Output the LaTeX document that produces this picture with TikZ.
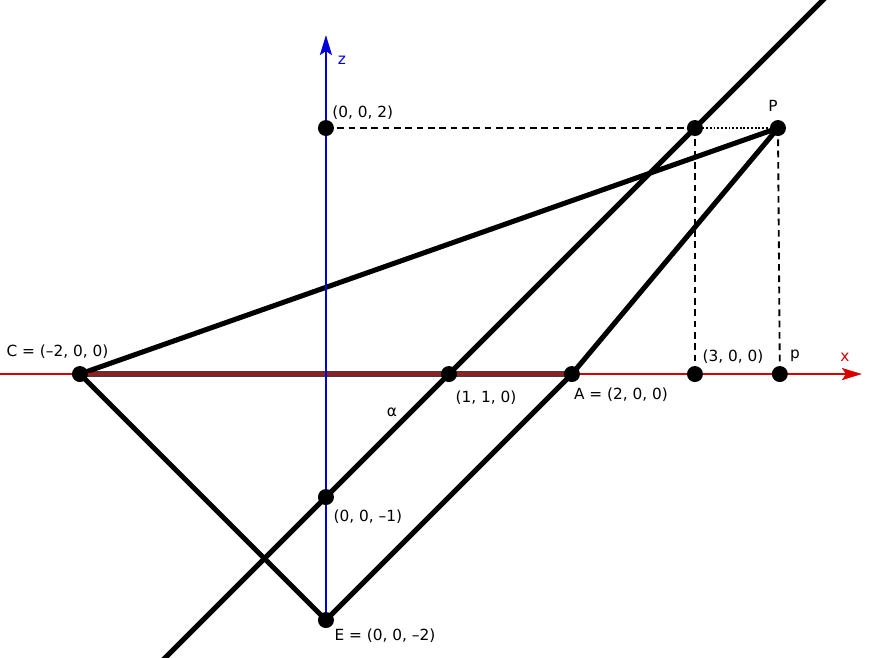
\documentclass[tikz,border=0pt]{standalone}
\usepackage{fontspec}
\setmainfont{DejaVu Sans}
\usetikzlibrary{arrows.meta}
\tikzset{
  dot/.style={circle, fill=black, inner sep=0pt, minimum size=12pt},
  edge/.style={line width=3.8pt, line cap=round},
  guide/.style={line width=1.4pt, dash pattern=on 5pt off 3.5pt},
  fine/.style={line width=1.4pt, dash pattern=on 1.4pt off 1.4pt},
  axis/.style={line width=1.8pt, -{Stealth[length=15pt, width=9pt, inset=3pt]}},
  lbl/.style={inner sep=0pt, font=\fontsize{11.5}{13}\selectfont},
}
\begin{document}
\begin{tikzpicture}[x=92.25pt, y=92.25pt]
% Fix the frame
\useasboundingbox (-2.650,-2.301) rectangle (4.537,3.041);
\clip (-2.650,-2.301) rectangle (4.537,3.041);

% Points of the figure (x, z)
\coordinate (C) at (-2, 0);
\coordinate (A) at (2, 0);
\coordinate (B) at (1, 0);
\coordinate (D) at (0, -1);
\coordinate (E) at (0, -2);
\coordinate (Z) at (0, 2);
\coordinate (Q) at (3, 2);
\coordinate (T) at (3, 0);
\coordinate (P) at (3.675, 2);
\coordinate (p) at (3.69, 0);
\coordinate (lineS) at (-1.40, -2.40);
\coordinate (lineN) at (4.15, 3.15);
\coordinate (xS) at (-2.70, 0);
\coordinate (xN) at (4.358, 0);
\coordinate (zN) at (0, 2.756);

% Helper lines
\draw[guide] (Z) -- (Q);
\draw[fine] (Q) -- (P);
\draw[guide] (Q) -- (T);
\draw[guide] (P) -- (p);

% Segment on the x axis
\draw[line width=3.9pt, gray!50!black] (C) -- (A);

% Heavy lines
\draw[edge] (lineS) -- (lineN);
\draw[edge] (C) -- (P);
\draw[edge] (C) -- (E);
\draw[edge] (E) -- (A);
\draw[edge] (A) -- (P);

% Axes
\draw[axis, red!85!black] (xS) -- (xN);
\draw[axis, blue!85!black] (E) -- (zN);

% Dots
\foreach \pt in {C, A, B, D, E, Z, Q, T, P, p}
  \node[dot] (dot\pt) at (\pt) {};

% Labels
\node[lbl, text=blue!85!black] (labz) at (0.130, 2.553) {z};
\node[lbl, text=red!85!black] (labx) at (4.220, 0.135) {x};
\node[lbl, anchor=west] (labZ) at (0.050, 2.122) {(0, 0, 2)};
\node[lbl] (labP) at (3.634, 2.179) {P};
\node[lbl] (labC) at (-2.183, 0.179) {C = (–2, 0, 0)};
\node[lbl] (labB) at (1.301, -0.195) {(1, 1, 0)};
\node[lbl] (labA) at (2.398, -0.171) {A = (2, 0, 0)};
\node[lbl] (labT) at (3.309, 0.138) {(3, 0, 0)};
\node[lbl] (labp) at (3.813, 0.150) {p};
\node[lbl] (labal) at (0.537, -0.309) {α};
\node[lbl] (labD) at (0.341, -1.163) {(0, 0, –1)};
\node[lbl] (labE) at (0.480, -2.130) {E = (0, 0, –2)};
\end{tikzpicture}
\end{document}
